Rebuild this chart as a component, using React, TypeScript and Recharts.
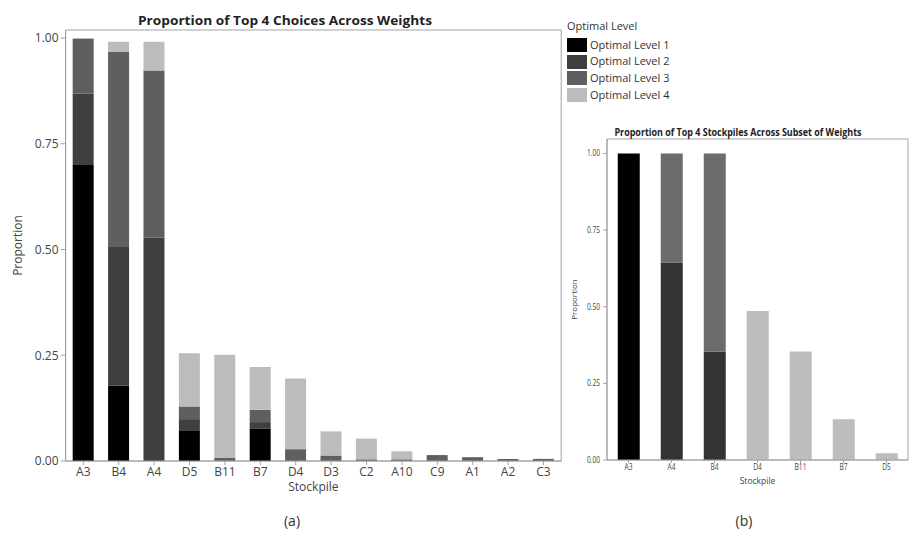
import React from 'react';
import { BarChart, Bar, XAxis, YAxis, Label, ReferenceArea } from 'recharts';

// ---- Data ----
const levels = ['Optimal Level 1', 'Optimal Level 2', 'Optimal Level 3', 'Optimal Level 4'];
const levelKeys = ['L1', 'L2', 'L3', 'L4'];

const leftCategories = ['A3', 'B4', 'A4', 'D5', 'B11', 'B7', 'D4', 'D3', 'C2', 'A10', 'C9', 'A1', 'A2', 'C3'];
const leftL1 = [0.70, 0.178, 0, 0.071, 0, 0.076, 0, 0, 0, 0, 0, 0, 0, 0];
const leftL2 = [0.168, 0.328, 0.528, 0.028, 0, 0.016, 0, 0, 0, 0, 0, 0, 0, 0];
const leftL3 = [0.130, 0.461, 0.395, 0.030, 0.008, 0.029, 0.028, 0.013, 0.004, 0.004, 0.014, 0.009, 0.005, 0.005];
const leftL4 = [0.002, 0.024, 0.068, 0.126, 0.243, 0.101, 0.167, 0.057, 0.049, 0.019, 0, 0, 0, 0];

const rightCategories = ['A3', 'A4', 'B4', 'D4', 'B11', 'B7', 'D5'];
const rightL1 = [1.0, 0, 0, 0, 0, 0, 0];
const rightL2 = [0, 0.643, 0.353, 0, 0, 0, 0];
const rightL3 = [0, 0.357, 0.647, 0, 0, 0, 0];
const rightL4 = [0, 0, 0, 0.486, 0.354, 0.133, 0.022];

const yTicks = [0, 0.25, 0.5, 0.75, 1.0];
const leftYMax = 1.019;
const rightYMax = 1.047;

const leftColors = ['#000000', '#3f3f3f', '#5f5f5f', '#bcbcbc'];
const rightColors = ['#000000', '#333333', '#6c6c6c', '#bdbdbd'];

const leftData = leftCategories.map((name, i) => ({ name, L1: leftL1[i], L2: leftL2[i], L3: leftL3[i], L4: leftL4[i] }));
const rightData = rightCategories.map((name, i) => ({ name, L1: rightL1[i], L2: rightL2[i], L3: rightL3[i], L4: rightL4[i] }));

const FONT = '"Open Sans", "DejaVu Sans", sans-serif';
const FRAME = '#a3a3a3';
const TEXT = '#444444';

const fmt = (v: number) => v.toFixed(2);

const CondensedTick = (props: any) => {
  const { x, y, payload, textAnchor, fs, sx, dy, isY } = props;
  const label = isY ? fmt(payload.value) : payload.value;
  return (
    <g transform={`translate(${x},${y})`}>
      <text transform={`scale(${sx},1)`} textAnchor={textAnchor} fontSize={fs} fill={TEXT} dy={dy} fontFamily={FONT}>
        {label}
      </text>
    </g>
  );
};

export default function App() {
  return (
    <div style={{ position: 'absolute', left: 0, top: 0, width: 910, height: 550, background: '#ffffff', fontFamily: FONT }}>
      {/* Left chart */}
      <div style={{ position: 'absolute', left: 0, top: 0 }}>
        <BarChart width={570} height={500} data={leftData} margin={{ top: 30, right: 8.8, bottom: 0, left: 0 }} barCategoryGap="20%">
          <XAxis dataKey="name" height={39} interval={0} tickSize={4} tickMargin={2} stroke={FRAME}
            tick={{ fill: TEXT, fontSize: 12, fontFamily: FONT }}>
            <Label value="Stockpile" position="insideBottom" offset={9} style={{ fill: TEXT, fontSize: 12, fontFamily: FONT }} />
          </XAxis>
          <YAxis width={65.6} domain={[0, leftYMax]} ticks={yTicks} tickFormatter={fmt} tickSize={5} tickMargin={2} stroke={FRAME}
            tick={{ fill: TEXT, fontSize: 12, fontFamily: FONT }} allowDataOverflow>
            <Label value="Proportion" angle={-90} position="insideLeft" offset={18} style={{ textAnchor: 'middle', fill: TEXT, fontSize: 12, fontFamily: FONT }} />
          </YAxis>
          <ReferenceArea y1={0} y2={leftYMax} fill="none" stroke={FRAME} strokeWidth={1} ifOverflow="visible" />
          {levelKeys.map((k, i) => (
            <Bar key={k} dataKey={k} name={levels[i]} stackId="a" fill={leftColors[i]} isAnimationActive={false} />
          ))}
        </BarChart>
      </div>

      {/* Right chart */}
      <div style={{ position: 'absolute', left: 560, top: 0 }}>
        <BarChart width={350} height={500} data={rightData} margin={{ top: 139, right: 2, bottom: 0, left: 0 }} barCategoryGap="25%">
          <XAxis dataKey="name" height={40} interval={0} tickSize={3} tickMargin={1} stroke={FRAME}
            tick={(p: any) => <CondensedTick {...p} fs={8.5} sx={0.78} dy="0.71em" />}>
            <Label value="Stockpile" position="insideBottom" offset={16} style={{ fill: TEXT, fontSize: 8.5, fontFamily: FONT }} />
          </XAxis>
          <YAxis width={47} domain={[0, rightYMax]} ticks={yTicks} tickSize={4} tickMargin={3} stroke={FRAME}
            tick={(p: any) => <CondensedTick {...p} fs={8.5} sx={0.78} dy="0.35em" isY />} allowDataOverflow>
            <Label value="Proportion" angle={-90} position="insideLeft" offset={14} style={{ textAnchor: 'middle', fill: TEXT, fontSize: 8, fontFamily: FONT }} />
          </YAxis>
          <ReferenceArea y1={0} y2={rightYMax} fill="none" stroke={FRAME} strokeWidth={1} ifOverflow="visible" />
          {levelKeys.map((k, i) => (
            <Bar key={k} dataKey={k} name={levels[i]} stackId="b" fill={rightColors[i]} isAnimationActive={false} />
          ))}
        </BarChart>
      </div>

      {/* Legend */}
      <div style={{ position: 'absolute', left: 567, top: 18, fontSize: 11, color: '#333', lineHeight: '16.7px' }}>
        <div style={{ marginBottom: 2 }}>Optimal Level</div>
        {levels.map((lv, i) => (
          <div key={lv} style={{ display: 'flex', alignItems: 'center', height: 16.7 }}>
            <span style={{ display: 'inline-block', width: 20, height: 14, background: leftColors[i], marginRight: 3 }} />
            <span>{lv}</span>
          </div>
        ))}
      </div>

      {/* Titles and captions */}
      <svg width={910} height={550} style={{ position: 'absolute', left: 0, top: 0, pointerEvents: 'none' }}>
        <text x={285} y={25} textAnchor="middle" fontSize={13} fontWeight="bold" fill="#222" fontFamily={FONT}
          textLength={294} lengthAdjust="spacingAndGlyphs">Proportion of Top 4 Choices Across Weights</text>
        <text x={738} y={136} textAnchor="middle" fontSize={10} fontWeight="bold" fill="#222" fontFamily={FONT}
          textLength={247} lengthAdjust="spacingAndGlyphs">Proportion of Top 4 Stockpiles Across Subset of Weights</text>
        <text x={292} y={526} textAnchor="middle" fontSize={14} fill="#333" fontFamily={FONT}>(a)</text>
        <text x={744} y={526} textAnchor="middle" fontSize={14} fill="#333" fontFamily={FONT}>(b)</text>
      </svg>
    </div>
  );
}
